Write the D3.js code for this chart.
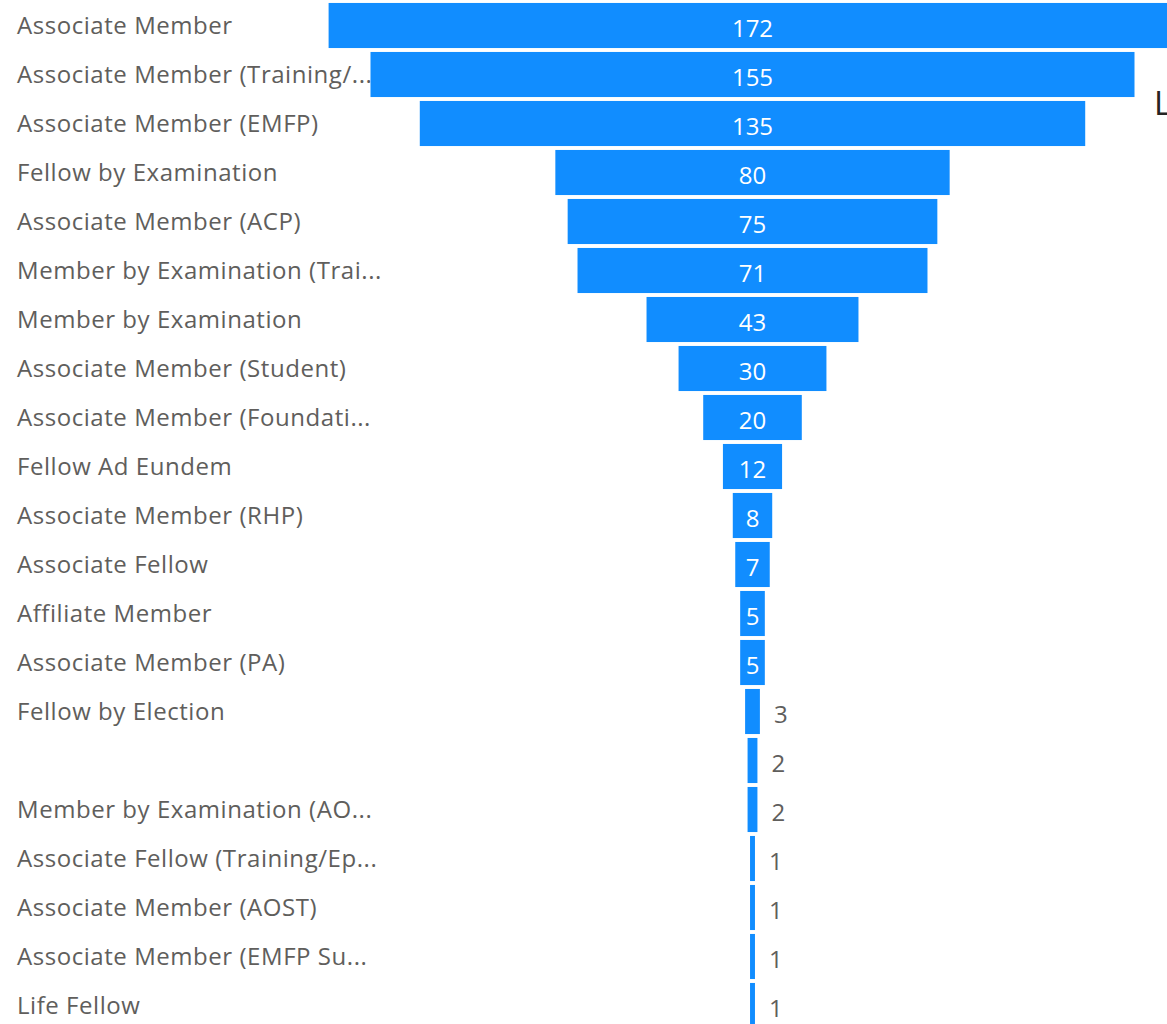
<!DOCTYPE html>
<html>
<head>
<meta charset="utf-8">
<script src="https://cdn.jsdelivr.net/npm/d3@7"></script>
<style>
  html, body { margin: 0; padding: 0; background: #fff; overflow: hidden; }
</style>
</head>
<body>
<div id="chart"></div>
<script>
let wSvg = 1167; let hSvg = 1024;

const categories = [
    "Associate Member",
    "Associate Member (Training/...",
    "Associate Member (EMFP)",
    "Fellow by Examination",
    "Associate Member (ACP)",
    "Member by Examination (Trai...",
    "Member by Examination",
    "Associate Member (Student)",
    "Associate Member (Foundati...",
    "Fellow Ad Eundem",
    "Associate Member (RHP)",
    "Associate Fellow",
    "Affiliate Member",
    "Associate Member (PA)",
    "Fellow by Election",
    "",
    "Member by Examination (AO...",
    "Associate Fellow (Training/Ep...",
    "Associate Member (AOST)",
    "Associate Member (EMFP Su...",
    "Life Fellow"
];
const values = [172, 155, 135, 80, 75, 71, 43, 30, 20, 12, 8, 7, 5, 5, 3, 2, 2, 1, 1, 1, 1];

const barColor = "#118DFF";
const textColor = "#605E5C";
const centerX = 752.5;

const rows = categories.map((c, i) => ({ idx: i, name: c, value: values[i] }));

let svg = d3.select("#chart")
    .append("svg")
    .attr("width", wSvg)
    .attr("height", hSvg)
    .style("font-family", "'Open Sans', 'Noto Sans', sans-serif");

const yScale = d3.scaleBand()
    .domain(rows.map(d => d.idx))
    .range([1, 1030])
    .paddingInner(0.08)
    .paddingOuter(0.04);

// half width of a bar, bars centred on centerX
const wScale = d3.scaleLinear()
    .domain([0, 155])
    .range([0, 764 / 2]);

svg.append("g")
    .selectAll("rect")
    .data(rows)
    .enter()
    .append("rect")
    .attr("x", d => centerX - wScale(d.value))
    .attr("y", d => yScale(d.idx))
    .attr("width", d => 2 * wScale(d.value))
    .attr("height", yScale.bandwidth())
    .attr("fill", barColor);

// category labels
svg.append("g")
    .selectAll("text")
    .data(rows)
    .enter()
    .append("text")
    .attr("x", 17)
    .attr("y", d => yScale(d.idx) + yScale.bandwidth() / 2 + 8.5)
    .attr("fill", textColor)
    .style("font-size", "24px")
    .style("letter-spacing", "0.55px")
    .text(d => d.name);

// data labels: inside when the bar is wide enough, else to the right
const inside = d => 2 * wScale(d.value) > 22;
svg.append("g")
    .selectAll("text")
    .data(rows)
    .enter()
    .append("text")
    .attr("x", d => inside(d) ? centerX : centerX + wScale(d.value) + 14)
    .attr("y", d => yScale(d.idx) + yScale.bandwidth() / 2 + 11)
    .attr("text-anchor", d => inside(d) ? "middle" : "start")
    .attr("fill", d => inside(d) ? "#ffffff" : textColor)
    .style("font-size", "24px")
    .text(d => d.value);

// clipped legend/title text at the right edge
svg.append("text")
    .attr("x", 1154)
    .attr("y", 115)
    .attr("fill", "#252423")
    .style("font-size", "33px")
    .text("L");
</script>
</body>
</html>
